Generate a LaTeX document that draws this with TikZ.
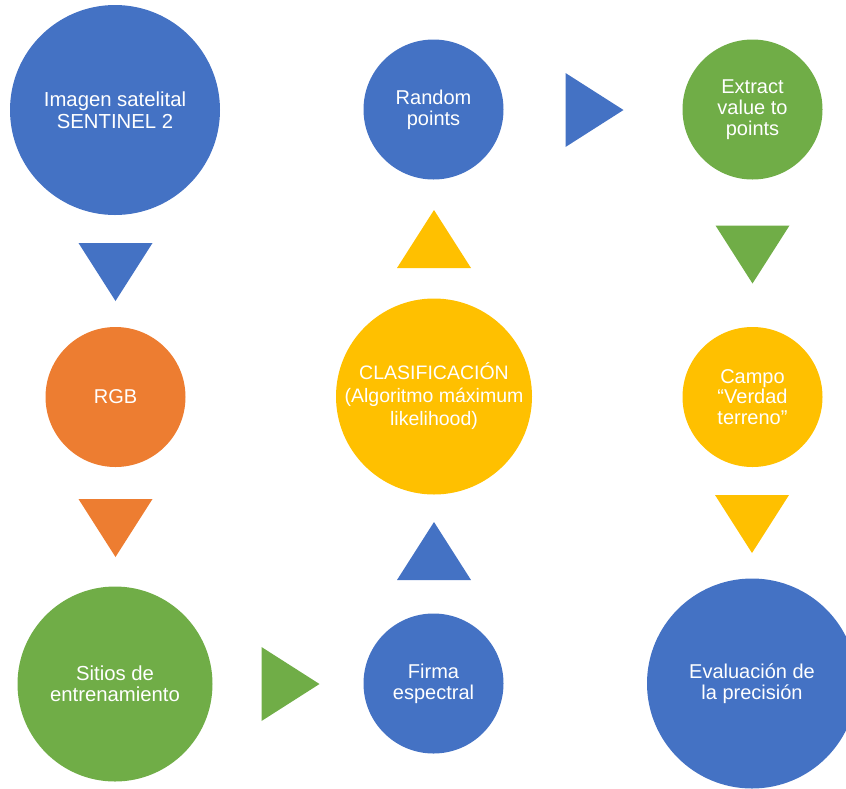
\documentclass[tikz,border=0pt]{standalone}
\usepackage{fontspec}
\setmainfont{Liberation Sans}
\usepackage{tikz}
\definecolor{azul}{HTML}{4472C4}
\definecolor{naranja}{HTML}{ED7D31}
\definecolor{verde}{HTML}{70AD47}
\definecolor{oro}{HTML}{FFC000}
\tikzset{
  blob/.style={circle,inner sep=0pt,text=white,align=center,
    font=\fontsize{20}{20.8}\selectfont},
  tri/.pic={\fill (-29,-37) -- (29,0) -- (-29,37) -- cycle;}
}

\begin{document}
\begin{tikzpicture}[x=1pt,y=-1pt]
\useasboundingbox (0,0) rectangle (846,788);
\clip (0,0) rectangle (846,788);
\node[blob,fill=azul,minimum size=210pt,font=\fontsize{20.3}{21.8}\selectfont] (imagen) at (115,110) {Imagen satelital\\SENTINEL 2};
\node[blob,fill=naranja,minimum size=140pt] (rgb) at (115.5,397) {RGB};
\node[blob,fill=verde,minimum size=195pt,font=\fontsize{20.3}{21}\selectfont] (sitios) at (115,684) {Sitios de\\entrenamiento};
\node[blob,fill=azul,minimum size=140pt] (firma) at (433.5,683.5) {Firma\\espectral};
\node[blob,fill=oro,minimum size=196pt,font=\fontsize{19.5}{23}\selectfont] (clasif) at (434,396.5) {CLASIFICACIÓN\\(Algoritmo máximum\\likelihood)};
\node[blob,fill=azul,minimum size=140pt] (random) at (433.5,109.5) {Random\\points};
\node[blob,fill=verde,minimum size=140pt] (extract) at (752.5,109.5) {Extract\\value to\\points};
\node[blob,fill=oro,minimum size=140pt] (campo) at (752.5,397) {Campo\\“Verdad\\terreno”};
\node[blob,fill=azul,minimum size=210pt] (eval) at (752,683.5) {Evaluación de\\la precisión};
\pic[color=azul,rotate=-90] (ta) at (115.5,272) {tri};
\pic[color=naranja,rotate=-90] (tb) at (115.5,528) {tri};
\pic[color=verde] (tc) at (290.5,684) {tri};
\pic[color=azul,rotate=90] (td) at (434,551) {tri};
\pic[color=oro,rotate=90] (te) at (434,239) {tri};
\pic[color=azul] (tf) at (594.5,110) {tri};
\pic[color=verde,rotate=-90] (tg) at (752.5,254.5) {tri};
\pic[color=oro,rotate=-90] (th) at (752,524) {tri};
\end{tikzpicture}
\end{document}
